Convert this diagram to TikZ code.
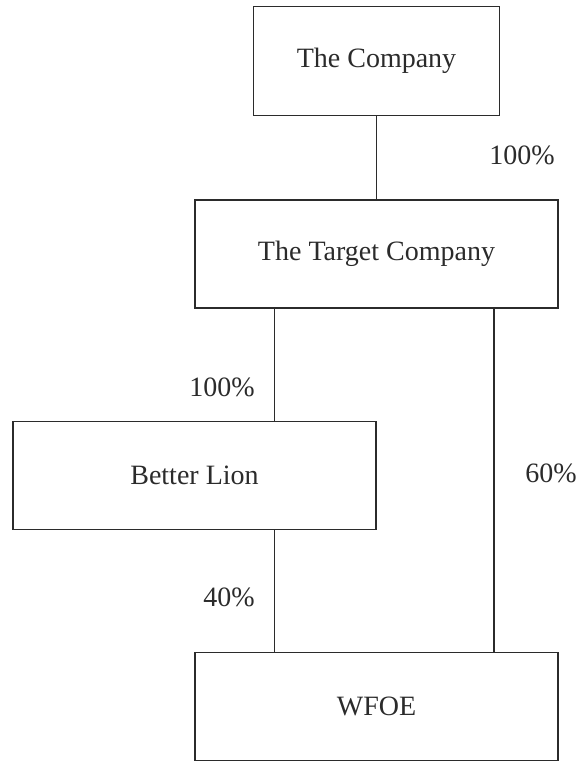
\documentclass[tikz,border=0pt]{standalone}
\usepackage{fontspec}
\setmainfont{Liberation Serif}
\definecolor{ink}{HTML}{2B2B2B}
\begin{document}
\begin{tikzpicture}[x=0.5pt,y=-0.5pt,
  box/.style={draw=ink,line width=0.75pt,inner sep=0pt,minimum width=181.5pt,minimum height=54pt,font=\fontsize{14}{17}\selectfont,text=ink},
  pct/.style={inner sep=0pt,font=\fontsize{14}{17}\selectfont,text=ink},
  link/.style={draw=ink,line width=0.75pt}]
\useasboundingbox (0,0) rectangle (579,761);
\node[box,minimum width=123pt,minimum height=54.5pt] (comp) at (376.5,61) {The Company};
\node[box] (tgt) at (376.5,254) {The Target Company};
\node[box] (bl) at (194.5,475.5) {Better Lion};
\node[box] (wfoe) at (376.5,706.5) {WFOE};
\coordinate (cl) at (274.3,0);
\coordinate (cr) at (494,0);
\draw[link] (comp.south) -- (tgt.north);
\draw[link] (tgt.south -| cl) -- (bl.north -| cl);
\draw[link] (bl.south -| cl) -- (wfoe.north -| cl);
\draw[link] (tgt.south -| cr) -- (wfoe.north -| cr);
\node[pct] (p1) at (522,155) {100\%};
\node[pct] (p2) at (222,387) {100\%};
\node[pct] (p3) at (551,473) {60\%};
\node[pct] (p4) at (229,597) {40\%};
\end{tikzpicture}
\end{document}
